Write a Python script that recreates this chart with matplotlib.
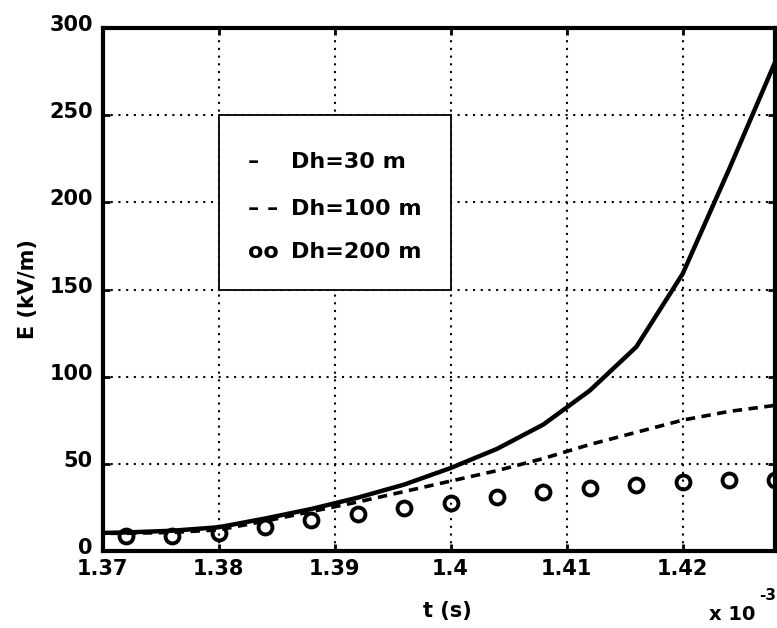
import numpy as np
import matplotlib.pyplot as plt
from matplotlib.patches import Rectangle
from matplotlib.transforms import ScaledTranslation

plt.rcParams['font.family'] = ['DejaVu Sans']
plt.rcParams['font.weight'] = 'bold'

# ---------------------------------------------------------------------------
# data (t in units of 1e-3 s, E in kV/m)
# ---------------------------------------------------------------------------
t_ms = [1.368, 1.372, 1.376, 1.380, 1.384, 1.388, 1.392, 1.396, 1.400,
        1.404, 1.408, 1.412, 1.416, 1.420, 1.424, 1.428]
E_dh30 = [10.0, 10.5, 11.5, 13.5, 18.5, 24.0, 30.5, 38.0, 47.5,
          58.5, 72.5, 92.0, 117.0, 159.0, 219.0, 281.0]
E_dh100 = [10.0, 10.0, 10.5, 12.0, 17.0, 22.5, 28.0, 34.0, 40.0,
           46.0, 53.0, 61.0, 68.0, 75.0, 80.0, 83.5]
t_circ = [1.372, 1.376, 1.380, 1.384, 1.388, 1.392, 1.396, 1.400,
          1.404, 1.408, 1.412, 1.416, 1.420, 1.424, 1.428]
E_dh200 = [8.6, 8.6, 10.0, 13.8, 17.6, 21.0, 24.3, 27.7,
           30.6, 34.0, 36.3, 37.8, 39.2, 40.5, 40.5]

legend_keys = ["\u2013", "\u2013 \u2013", "oo"]
legend_labels = ["Dh=30 m", "Dh=100 m", "Dh=200 m"]

x_ticks = [1.37, 1.38, 1.39, 1.40, 1.41, 1.42]
x_ticklabels = ["1.37", "1.38", "1.39", "1.4", "1.41", "1.42"]
y_ticks = [0, 50, 100, 150, 200, 250, 300]

# ---------------------------------------------------------------------------
fig = plt.figure(figsize=(7.77, 6.28), dpi=100)
ax = fig.add_axes([0.132, 0.123, 0.866, 0.832])

ax.plot(t_ms, E_dh30, color="k", linewidth=3.2, solid_capstyle="butt", zorder=3)
ax.plot(t_ms, E_dh100, color="k", linewidth=2.6, dashes=(2.6, 1.8), zorder=3)
ax.plot(t_circ, E_dh200, linestyle="none", marker="o", markersize=10,
        markerfacecolor="none", markeredgecolor="k", markeredgewidth=2.8, zorder=3)

ax.set_xlim(1.37, 1.428)
ax.set_ylim(0, 300)
ax.set_xticks(x_ticks)
ax.set_xticklabels(x_ticklabels)
ax.set_yticks(y_ticks)

ax.grid(True, color="k", linestyle=(0, (1, 2.7)), linewidth=1.5)
ax.set_axisbelow(True)
for sp in ax.spines.values():
    sp.set_linewidth(3)
ax.tick_params(direction="in", length=5, width=2, top=True, right=True,
               labelsize=15)
ax.tick_params(axis="y", pad=7)
ax.tick_params(axis="x", pad=6)

# y tick labels sit a little above their ticks in the original
shift_up = ScaledTranslation(0, 5 / 100, fig.dpi_scale_trans)
for lbl in ax.get_yticklabels():
    lbl.set_transform(lbl.get_transform() + shift_up)

fig.text(0.036, 0.539, "E (kV/m)", fontsize=15, fontweight="bold",
         rotation=90, ha="center", va="center")
fig.text(0.576, 0.027, "t (s)", fontsize=15, fontweight="bold",
         ha="center", va="center")
fig.text(0.912, 0.013, "x 10", fontsize=14, fontweight="bold",
         ha="left", va="baseline")
fig.text(0.977, 0.045, "-3", fontsize=11, fontweight="bold",
         ha="left", va="baseline")

# text-style legend box, as in the original figure
box = Rectangle((1.38, 150), 0.02, 100, facecolor="white", edgecolor="k",
                linewidth=1.3, zorder=4)
ax.add_patch(box)
key_y = [219.8, 192.9, 168.0]
for key, label, yy in zip(legend_keys, legend_labels, key_y):
    ax.text(1.3825, yy, key, fontsize=16, fontweight="bold",
            ha="left", va="baseline", zorder=5)
    ax.text(1.3862, yy, label, fontsize=16, fontweight="bold",
            ha="left", va="baseline", zorder=5)

plt.savefig("out.png", dpi=100)
